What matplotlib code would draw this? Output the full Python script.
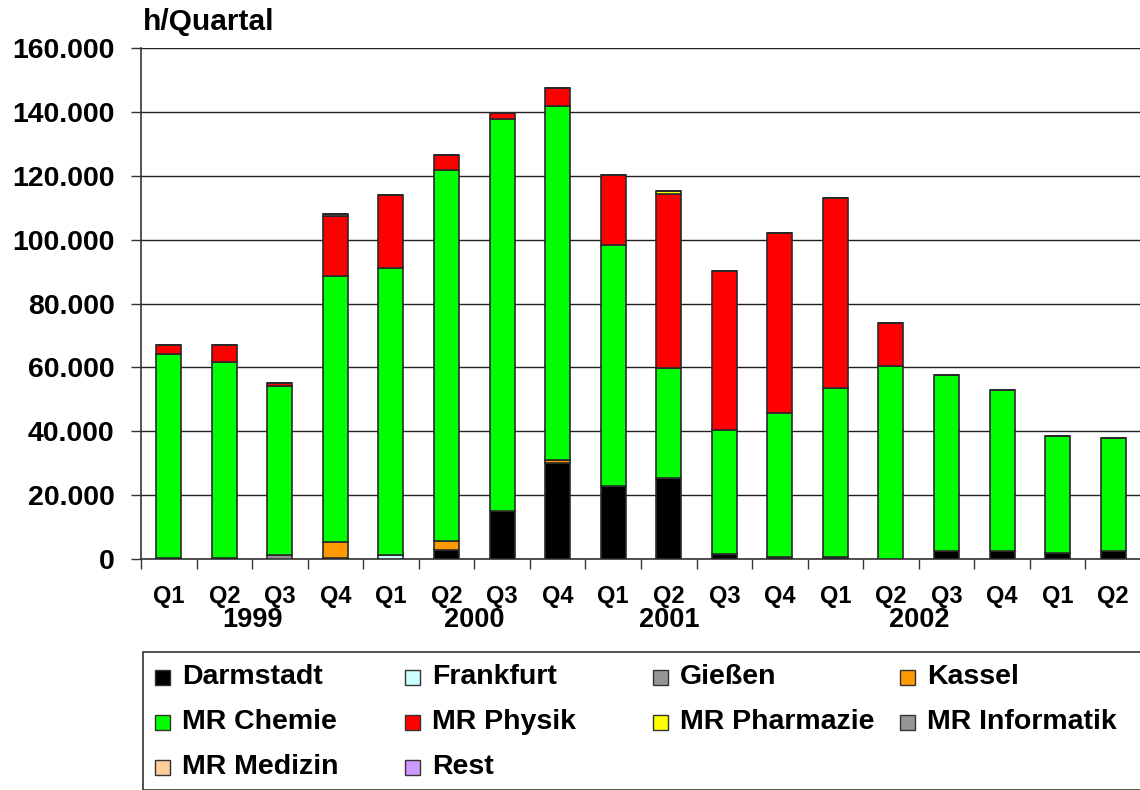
import numpy as np
import matplotlib
matplotlib.use("Agg")
import matplotlib.pyplot as plt
from matplotlib.patches import Rectangle
from matplotlib.ticker import FuncFormatter

plt.rcParams['font.family'] = ['Liberation Sans', 'DejaVu Sans']
plt.rcParams['font.weight'] = 'bold'

# quarter labels and year labels
quarters = ['Q1', 'Q2', 'Q3', 'Q4', 'Q1', 'Q2', 'Q3', 'Q4', 'Q1',
            'Q2', 'Q3', 'Q4', 'Q1', 'Q2', 'Q3', 'Q4', 'Q1', 'Q2']
years = ['1999', '2000', '2001', '2002']
year_pos = [1.5, 5.5, 9.0, 13.5]

# h/Quartal per site
darmstadt = [300, 300, 0, 300, 0, 2900, 15000, 30000, 22900, 25400,
             1500, 500, 500, 0, 2500, 2500, 1800, 2500]
frankfurt = [0, 0, 0, 0, 1200, 0, 0, 0, 0, 0, 0, 0, 0, 0, 0, 0, 0, 0]
giessen = [0, 0, 1300, 0, 0, 0, 0, 0, 0, 0, 0, 0, 0, 0, 0, 0, 0, 0]
kassel = [0, 0, 0, 5000, 0, 2700, 0, 1000, 0, 0, 0, 0, 0, 0, 0, 0, 0, 0]
chemie = [63900, 61400, 52900, 83200, 89900, 116200, 122800, 110800, 75400,
          34400, 38900, 45200, 53000, 60400, 55100, 50400, 36700, 35400]
physik = [2800, 5300, 800, 19000, 22900, 4700, 1900, 5700, 21900, 54500,
          49800, 56300, 59500, 13500, 0, 0, 0, 0]
pharmazie = [0, 0, 0, 0, 0, 0, 0, 0, 0, 800, 0, 0, 0, 0, 0, 0, 0, 0]
informatik = [0, 0, 0, 500, 0, 0, 0, 0, 0, 0, 0, 0, 0, 0, 0, 0, 0, 0]
medizin = [0] * 18
rest = [0] * 18

names = ['Darmstadt', 'Frankfurt', 'Gießen', 'Kassel', 'MR Chemie',
         'MR Physik', 'MR Pharmazie', 'MR Informatik', 'MR Medizin', 'Rest']
series = [darmstadt, frankfurt, giessen, kassel, chemie, physik,
          pharmazie, informatik, medizin, rest]
colors = ['#000000', '#CCFFFF', '#969696', '#FF9900', '#00FF00',
          '#FF0000', '#FFFF00', '#969696', '#FFCC99', '#CC99FF']

W, H = 1140, 790
fig = plt.figure(figsize=(W / 100, H / 100), dpi=100)
ax = fig.add_axes([141 / W, 1 - 559 / H, 1000 / W, 511 / H])

x = np.arange(len(quarters))
bottom = np.zeros(len(quarters))
for vals, c in zip(series, colors):
    v = np.array(vals, dtype=float)
    ax.bar(x, v, width=0.45, bottom=bottom, color=c, edgecolor='#2a2a2a',
           linewidth=1.2, zorder=3)
    bottom += v

ax.set_xlim(-0.5, len(quarters) - 0.5)
ax.set_ylim(0, 160000)
ax.set_yticks(np.arange(0, 160001, 20000))
ax.yaxis.set_major_formatter(FuncFormatter(lambda v, p: f'{int(v):,}'.replace(',', '.')))
ax.grid(axis='y', color='#222222', linewidth=1, zorder=0)

ax.set_xticks(x)
ax.set_xticklabels(quarters)
ax.set_xticks(np.arange(-0.5, len(quarters), 1.0), minor=True)
ax.tick_params(axis='x', which='major', length=0, pad=19, labelsize=17)
ax.tick_params(axis='x', which='minor', length=7, width=1, color='#333333', direction='out')
ax.tick_params(axis='y', length=7, width=1, color='#333333', labelsize=20.5, pad=12)

for s in ['top', 'right']:
    ax.spines[s].set_visible(False)
for s in ['left', 'bottom']:
    ax.spines[s].set_color('#333333')
    ax.spines[s].set_linewidth(1.2)

for yr, p in zip(years, year_pos):
    ax.text(p, -0.12, yr, transform=ax.get_xaxis_transform(), ha='center',
            va='center', fontsize=19.5, fontweight='bold')

fig.text(143 / W, 1 - 22 / H, 'h/Quartal', ha='left', va='center',
         fontsize=21.5, fontweight='bold')

# legend box
fig.patches.append(Rectangle((143 / W, 0), 1 - 143 / W + 0.01, (H - 652) / H,
                             transform=fig.transFigure, facecolor='white',
                             edgecolor='#333333', linewidth=1.2))
col_x = [155, 405, 653, 900]
row_y = [677, 722, 767]
for i, (n, c) in enumerate(zip(names, colors)):
    cx = col_x[i % 4]
    cy = row_y[i // 4]
    fig.patches.append(Rectangle((cx / W, 1 - (cy + 8) / H), 15 / W, 15 / H,
                                 transform=fig.transFigure, facecolor=c,
                                 edgecolor='#333333', linewidth=1))
    fig.text((cx + 27) / W, 1 - cy / H, n, ha='left', va='center',
             fontsize=20.5, fontweight='bold')

fig.savefig('out.png', dpi=100)
